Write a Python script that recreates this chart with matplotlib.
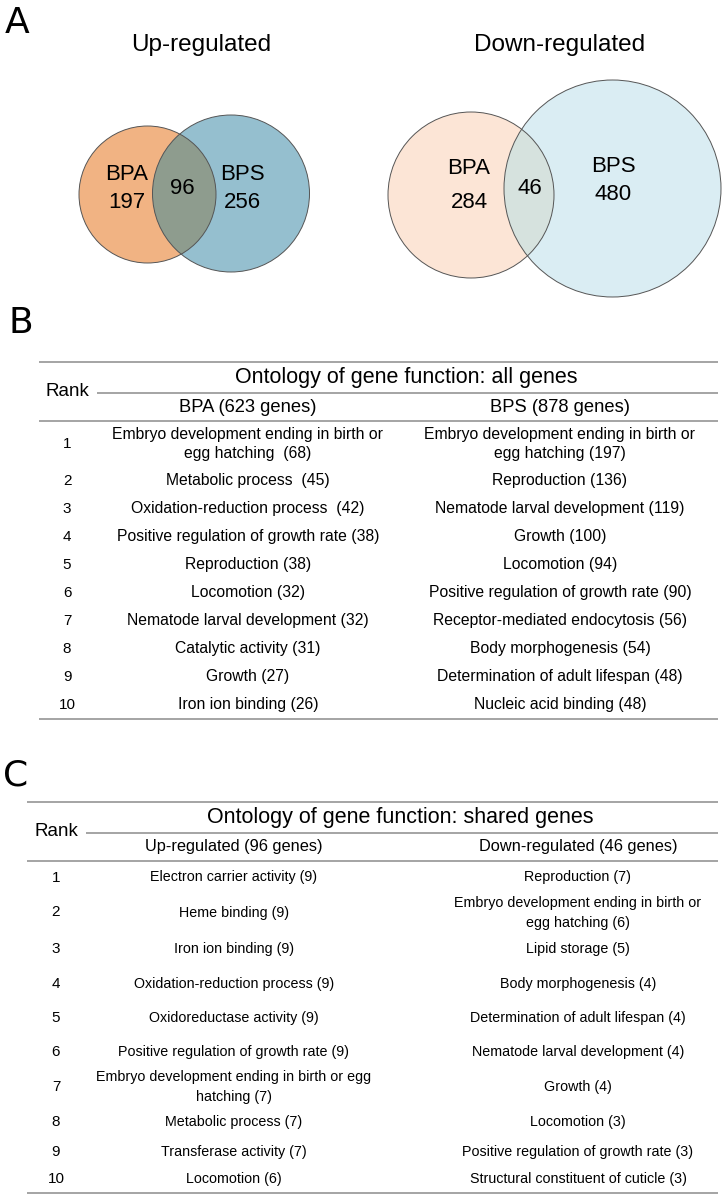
import numpy as np
import matplotlib
matplotlib.use("Agg")
import matplotlib.pyplot as plt
from matplotlib.patches import Circle

# ---------------------------------------------------------------------
# Data
# ---------------------------------------------------------------------
VENN_TITLES = ["Up-regulated", "Down-regulated"]
VENN_BPA_ONLY = [197, 284]
VENN_SHARED = [96, 46]
VENN_BPS_ONLY = [256, 480]

RANKS = list(range(1, 11))

ALL_TITLE = "Ontology of gene function: all genes"
ALL_COLS = ["BPA (623 genes)", "BPS (878 genes)"]
ALL_BPA = [
    "Embryo development ending in birth or\negg hatching  (68)",
    "Metabolic process  (45)",
    "Oxidation-reduction process  (42)",
    "Positive regulation of growth rate (38)",
    "Reproduction (38)",
    "Locomotion (32)",
    "Nematode larval development (32)",
    "Catalytic activity (31)",
    "Growth (27)",
    "Iron ion binding (26)",
]
ALL_BPS = [
    "Embryo development ending in birth or\negg hatching (197)",
    "Reproduction (136)",
    "Nematode larval development (119)",
    "Growth (100)",
    "Locomotion (94)",
    "Positive regulation of growth rate (90)",
    "Receptor-mediated endocytosis (56)",
    "Body morphogenesis (54)",
    "Determination of adult lifespan (48)",
    "Nucleic acid binding (48)",
]

SHARED_TITLE = "Ontology of gene function: shared genes"
SHARED_COLS = ["Up-regulated (96 genes)", "Down-regulated (46 genes)"]
SHARED_UP = [
    "Electron carrier activity (9)",
    "Heme binding (9)",
    "Iron ion binding (9)",
    "Oxidation-reduction process (9)",
    "Oxidoreductase activity (9)",
    "Positive regulation of growth rate (9)",
    "Embryo development ending in birth or egg\nhatching (7)",
    "Metabolic process (7)",
    "Transferase activity (7)",
    "Locomotion (6)",
]
SHARED_DOWN = [
    "Reproduction (7)",
    "Embryo development ending in birth or\negg hatching (6)",
    "Lipid storage (5)",
    "Body morphogenesis (4)",
    "Determination of adult lifespan (4)",
    "Nematode larval development (4)",
    "Growth (4)",
    "Locomotion (3)",
    "Positive regulation of growth rate (3)",
    "Structural constituent of cuticle (3)",
]

# ---------------------------------------------------------------------
# Layout (pixel units, y down)
# ---------------------------------------------------------------------
W, H = 722, 1199
SANS = "Liberation Sans"
LINE_C = "#8c8c8c"

VENN_LAYOUT = [
    dict(title_xy=(201, 45),
         a=(147.5, 194.5, 68.5), b=(231, 193.5, 78.5),
         colors=("#F1B383", "#95BFCF", "#8E9C8E"),
         a_xy=(127, 175, 202), s_xy=(182, 188), b_xy=(242, 175, 202)),
    dict(title_xy=(560, 45),
         a=(471, 195, 83), b=(612.5, 188.5, 108.5),
         colors=("#FCE5D6", "#DAEDF3", "#D6E2DE"),
         a_xy=(469, 168, 203), s_xy=(530, 188), b_xy=(613, 166, 195)),
]


def draw_venn(ax, lay, title, n_a, n_s, n_b):
    ax.text(*lay["title_xy"], title, ha="center", va="center",
            fontsize=17.5, family=SANS)
    ca, cb, co = lay["colors"]
    circ_a = Circle(lay["a"][:2], lay["a"][2], facecolor=ca, edgecolor="none")
    circ_b = Circle(lay["b"][:2], lay["b"][2], facecolor=cb, edgecolor="none")
    ax.add_patch(circ_a)
    ax.add_patch(circ_b)
    overlap = Circle(lay["a"][:2], lay["a"][2], facecolor=co, edgecolor="none")
    ax.add_patch(overlap)
    overlap.set_clip_path(circ_b)
    for c in (lay["a"], lay["b"]):
        ax.add_patch(Circle(c[:2], c[2], facecolor="none",
                            edgecolor="#555555", lw=0.7))
    fs = 16
    x, y1, y2 = lay["a_xy"]
    ax.text(x, y1, "BPA", ha="center", va="center", fontsize=fs, family=SANS)
    ax.text(x, y2, str(n_a), ha="center", va="center", fontsize=fs, family=SANS)
    ax.text(*lay["s_xy"], str(n_s), ha="center", va="center", fontsize=fs, family=SANS)
    x, y1, y2 = lay["b_xy"]
    ax.text(x, y1, "BPS", ha="center", va="center", fontsize=fs, family=SANS)
    ax.text(x, y2, str(n_b), ha="center", va="center", fontsize=fs, family=SANS)


def draw_cell(ax, x, y, text, fs, gap):
    lines = text.split("\n")
    n = len(lines)
    for i, ln in enumerate(lines):
        yy = y + (i - (n - 1) / 2) * gap
        ax.text(x, yy, ln, ha="center", va="center", fontsize=fs, family=SANS)


def draw_table(ax, top, x0, x_sub, rank_x, title_x, col_x, title, cols,
               left, right, row_h, fs_row, fs_sub, fs_rank, gap):
    x1 = 718
    ax.plot([x0, x1], [top, top], color=LINE_C, lw=1.1, solid_capstyle="butt")
    ax.plot([x_sub, x1], [top + 31, top + 31], color=LINE_C, lw=1.1,
            solid_capstyle="butt")
    ax.plot([x0, x1], [top + 59, top + 59], color=LINE_C, lw=1.1,
            solid_capstyle="butt")
    ax.text(title_x, top + 16, title, ha="center", va="center",
            fontsize=15.5, family=SANS)
    ax.text(rank_x, top + 30, "Rank", ha="center", va="center",
            fontsize=13.5, family=SANS)
    for cx, c in zip(col_x, cols):
        ax.text(cx, top + 45, c, ha="center", va="center",
                fontsize=fs_sub, family=SANS)
    edges = top + 59 + np.concatenate([[0], np.cumsum(row_h)])
    centers = (edges[:-1] + edges[1:]) / 2
    for r, y, a, b in zip(RANKS, centers, left, right):
        ax.text(rank_x, y, str(r), ha="center", va="center",
                fontsize=fs_rank, family=SANS)
        draw_cell(ax, col_x[0], y, a, fs_row, gap)
        draw_cell(ax, col_x[1], y, b, fs_row, gap)
    ax.plot([x0, x1], [edges[-1], edges[-1]], color=LINE_C, lw=1.1,
            solid_capstyle="butt")


fig = plt.figure(figsize=(W / 100, H / 100), dpi=100)
ax = fig.add_axes([0, 0, 1, 1])
ax.set_xlim(0, W)
ax.set_ylim(H, 0)
ax.axis("off")

# panel letters
for lbl, x, y in [("A", 5, 33), ("B", 8, 333), ("C", 3, 785)]:
    ax.text(x, y, lbl, ha="left", va="baseline", fontsize=26, family="DejaVu Sans")

# A: Venn diagrams
for i in range(2):
    draw_venn(ax, VENN_LAYOUT[i], VENN_TITLES[i],
              VENN_BPA_ONLY[i], VENN_SHARED[i], VENN_BPS_ONLY[i])

# B: all genes table
draw_table(ax, top=362, x0=39, x_sub=97, rank_x=67, title_x=406,
           col_x=(248, 560), title=ALL_TITLE, cols=ALL_COLS,
           left=ALL_BPA, right=ALL_BPS,
           row_h=[46] + [28] * 9, fs_row=11.3, fs_sub=13.2, fs_rank=11,
           gap=19)

# C: shared genes table
draw_table(ax, top=802, x0=27, x_sub=86, rank_x=56, title_x=400,
           col_x=(234, 578), title=SHARED_TITLE, cols=SHARED_COLS,
           left=SHARED_UP, right=SHARED_DOWN,
           row_h=[33, 37, 36, 34, 34, 34, 36, 34, 26, 28],
           fs_row=10.3, fs_sub=11.8, fs_rank=11, gap=20)

fig.savefig("out.png", dpi=100)
plt.close(fig)
